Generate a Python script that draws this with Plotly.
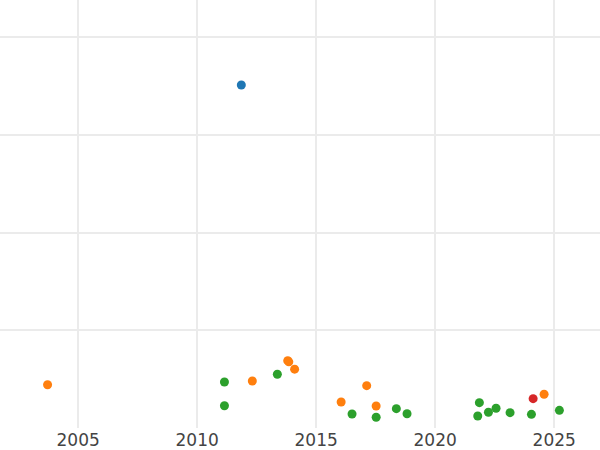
import plotly.graph_objects as go

blue_x = ["2011-11-10"]
blue_y = [351]

orange_x = ["2003-09-20", "2012-04-27", "2013-10-22", "2013-11-08", "2014-02-05",
            "2016-01-20", "2017-02-15", "2017-07-10", "2024-07-30"]
orange_y = [44.3, 48.1, 68.9, 67.7, 60.2, 26.6, 43.3, 22.5, 34.5]

green_x = ["2011-02-24", "2011-02-24", "2013-05-16", "2016-07-05", "2017-07-10",
           "2018-05-16", "2018-10-27", "2021-10-16", "2021-11-10", "2022-03-29",
           "2022-07-24", "2023-02-24", "2024-01-18", "2025-03-22"]
green_y = [47.1, 22.8, 55.0, 14.3, 11.0, 19.8, 14.6, 12.3, 25.9, 16.1,
           20.2, 15.7, 14.0, 18.1]

red_x = ["2024-02-13"]
red_y = [30.0]

tick_vals = ["2005-01-01", "2010-01-01", "2015-01-01", "2020-01-01", "2025-01-01"]
tick_text = ["2005", "2010", "2015", "2020", "2025"]

series = [
    (blue_x, blue_y, "#1f77b4"),
    (orange_x, orange_y, "#ff7f0e"),
    (green_x, green_y, "#2ca02c"),
    (red_x, red_y, "#d62728"),
]

fig = go.Figure()
for xs, ys, col in series:
    fig.add_trace(go.Scatter(x=xs, y=ys, mode="markers",
                             marker=dict(size=9, color=col, line=dict(width=0)),
                             showlegend=False))

fig.update_layout(
    width=600, height=450,
    margin=dict(l=0, r=0, t=0, b=22),
    paper_bgcolor="white", plot_bgcolor="white",
    font=dict(family="DejaVu Sans", size=17, color="#444444"),
)
fig.update_xaxes(
    type="date",
    range=["2001-09-20", "2026-12-05"],
    tickvals=tick_vals,
    ticktext=tick_text,
    showgrid=True, gridcolor="#ebebeb", gridwidth=2,
    zeroline=False, showline=False, ticks="",
)
fig.update_yaxes(
    range=[0, 438],
    tickvals=[100, 200, 300, 400],
    showticklabels=False,
    showgrid=True, gridcolor="#ebebeb", gridwidth=1.5,
    zeroline=False, showline=False, ticks="",
)

fig.write_html("out.html", config={"displayModeBar": False},
               post_script="document.body.style.margin='0';")
